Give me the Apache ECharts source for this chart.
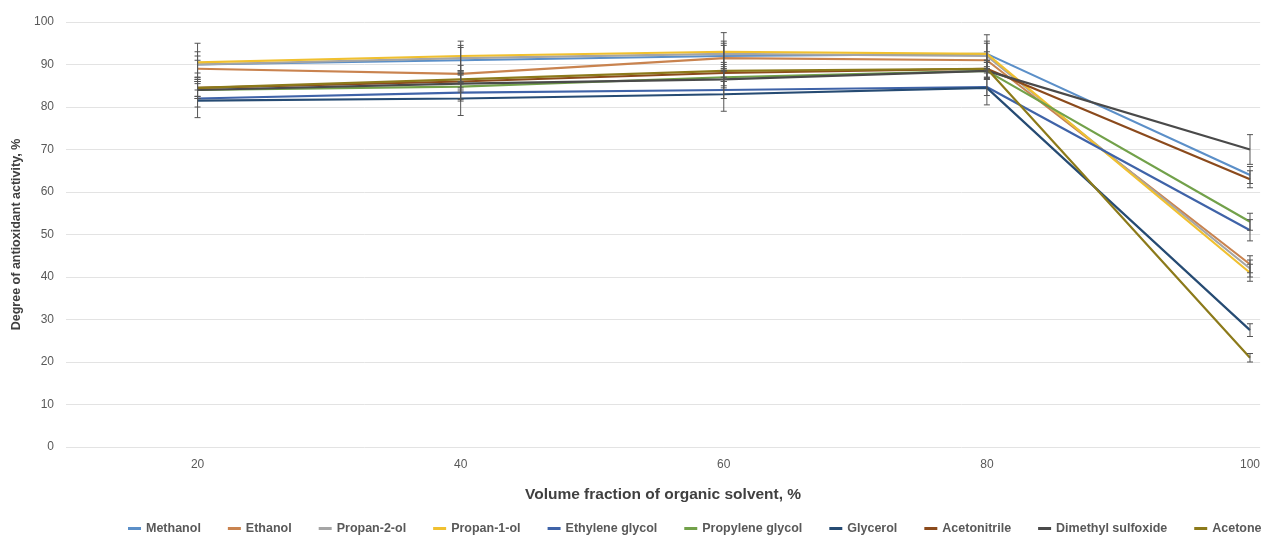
<!DOCTYPE html>
<html><head><meta charset="utf-8">
<script src="https://cdn.jsdelivr.net/npm/echarts@6/dist/echarts.min.js"></script>
<style>html,body{margin:0;padding:0;background:#fff}#c{width:1263px;height:536px}</style>
</head><body><div id="c"></div>
<script>
var categories = [20, 40, 60, 80, 100];
var seriesNames = ['Methanol', 'Ethanol', 'Propan-2-ol', 'Propan-1-ol', 'Ethylene glycol', 'Propylene glycol', 'Glycerol', 'Acetonitrile', 'Dimethyl sulfoxide', 'Acetone'];
var methanol = [90, 91, 92, 92.5, 64];
var ethanol = [89, 87.8, 91.5, 91, 43];
var propan2ol = [90, 91.5, 92.5, 92, 42];
var propan1ol = [90.5, 92, 93, 92.5, 41];
var ethyleneGlycol = [82, 83.4, 84, 84.7, 51];
var propyleneGlycol = [84, 84.8, 87, 88.5, 53];
var glycerol = [81.5, 82, 83, 84.5, 27.5];
var acetonitrile = [84.5, 86, 88, 89, 63];
var dmso = [84, 85.5, 86.5, 88.5, 70];
var acetone = [84.5, 86.5, 88.5, 89, 21];
var errMethanol = [2, 3, 3, 3, 2];
var errEthanol = [2, 2, 3, 2, 2];
var errPropan2ol = [3, 3, 3, 3, 2];
var errPropan1ol = [4.5, 3.5, 4.5, 4.5, 2];
var errEthyleneGlycol = [2, 2, 2, 2, 2.5];
var errPropyleneGlycol = [2, 3, 2, 2, 2];
var errGlycerol = [4, 4, 4, 4, 1.5];
var errAcetonitrile = [2, 2, 2, 2, 2];
var errDmso = [2, 2, 2, 2, 3.5];
var errAcetone = [2, 2, 2, 2, 1];

var values = [methanol, ethanol, propan2ol, propan1ol, ethyleneGlycol, propyleneGlycol, glycerol, acetonitrile, dmso, acetone];
var errors = [errMethanol, errEthanol, errPropan2ol, errPropan1ol, errEthyleneGlycol, errPropyleneGlycol, errGlycerol, errAcetonitrile, errDmso, errAcetone];
var colors = ['#5b8fc8', '#c9834f', '#a5a5a5', '#f0c030', '#3f63a8', '#72a14a', '#264b73', '#8b4a1c', '#4a4a4a', '#8c7a1a'];

var series = [];
values.forEach(function (v, i) {
  series.push({
    name: seriesNames[i], type: 'line', symbol: 'none',
    data: v.map(function (y, k) { return [categories[k], y]; }),
    lineStyle: { width: 2.2, color: colors[i] }, itemStyle: { color: colors[i] }, z: 2
  });
});
values.forEach(function (v, i) {
  series.push({
    type: 'custom', z: 3, silent: true,
    data: v.map(function (y, k) { return [categories[k], y - errors[i][k], y + errors[i][k]]; }),
    renderItem: function (params, api) {
      var lo = api.coord([api.value(0), api.value(1)]);
      var hi = api.coord([api.value(0), api.value(2)]);
      var w = 3;
      var st = { stroke: '#555', lineWidth: 1 };
      return { type: 'group', children: [
        { type: 'line', shape: { x1: lo[0], y1: lo[1], x2: hi[0], y2: hi[1] }, style: st },
        { type: 'line', shape: { x1: lo[0] - w, y1: lo[1], x2: lo[0] + w, y2: lo[1] }, style: st },
        { type: 'line', shape: { x1: hi[0] - w, y1: hi[1], x2: hi[0] + w, y2: hi[1] }, style: st }
      ]};
    }
  });
});

var chart = echarts.init(document.getElementById('c'));
chart.setOption({
  animation: false,
  textStyle: { fontFamily: 'Liberation Sans' },
  grid: { left: 66, top: 22, bottom: 89, right: 0, containLabel: false },
  legend: {
    data: seriesNames, left: 123, top: 517, width: 1600, itemWidth: 13, itemHeight: 3, itemGap: 27,
    icon: 'rect',
    textStyle: { fontSize: 12.5, color: '#595959', fontWeight: 'bold' }
  },
  xAxis: {
    type: 'value', min: 10, max: 100.77,
    name: 'Volume fraction of organic solvent, %', nameLocation: 'middle', nameGap: 40,
    nameTextStyle: { fontSize: 15.5, fontWeight: 'bold', color: '#404040' },
    axisLine: { show: false }, axisTick: { show: false }, splitLine: { show: false },
    axisLabel: { fontSize: 12, color: '#595959', margin: 12, customValues: categories, showMaxLabel: true }
  },
  yAxis: {
    type: 'value', min: 0, max: 100, interval: 10,
    name: 'Degree of antioxidant activity, %', nameLocation: 'middle', nameGap: 42, nameRotate: 90,
    nameTextStyle: { fontSize: 12.5, fontWeight: 'bold', color: '#404040' },
    axisLine: { show: false }, axisTick: { show: false },
    splitLine: { lineStyle: { color: '#e3e3e3' } },
    axisLabel: { fontSize: 12, color: '#595959', margin: 12 }
  },
  series: series
});
</script></body></html>
